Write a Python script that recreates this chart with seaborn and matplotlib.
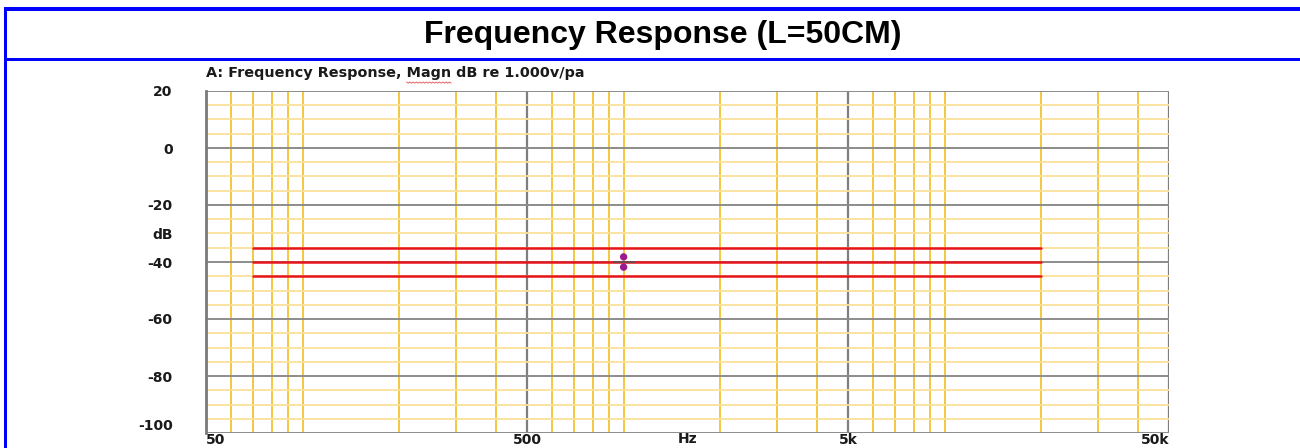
import numpy as np
import pandas as pd
import matplotlib
matplotlib.use("Agg")
import matplotlib.pyplot as plt
import matplotlib.ticker as mticker
from matplotlib.patches import Rectangle
from matplotlib.lines import Line2D
import seaborn as sns

# ---- data ----
trace_freq = [70, 20000]
trace_upper = [-35, -35]
trace_mid = [-40, -40]
trace_lower = [-45, -45]
cursor_freq = [1000, 1000]
cursor_db = [-38.2, -41.8]
x_ticks = [50, 500, 5000, 50000]
x_tick_labels = ["50", "500", "5k", "50k"]
y_ticks = [-100, -80, -60, -40, -20, 0, 20]
y_tick_labels = ["-100", "-80", "-60", "-40", "-20", "0", "20"]

df = pd.DataFrame({
    "freq": trace_freq * 3,
    "db": trace_upper + trace_mid + trace_lower,
    "trace": ["upper"] * 2 + ["mid"] * 2 + ["lower"] * 2,
})

sns.set_style("white")
plt.rcParams["font.family"] = ["DejaVu Sans"]

W, H = 1300, 448
fig = plt.figure(figsize=(W / 100, H / 100), dpi=100)
fig.patch.set_facecolor("white")

ax_l, ax_r, ax_t, ax_b = 206, 1169, 91, 433
ax = fig.add_axes([ax_l / W, 1 - ax_b / H, (ax_r - ax_l) / W, (ax_b - ax_t) / H])

sns.lineplot(data=df, x="freq", y="db", units="trace", estimator=None,
             color="#e8141c", linewidth=1.8, ax=ax, legend=False, zorder=5)

# cursor marker
ax.plot([1000], [-40], marker="_", ms=16, mew=1.2, color="#555555", zorder=6, linestyle="none")
sns.scatterplot(x=cursor_freq, y=cursor_db, color="#9b1b8e", s=28, marker="o",
                edgecolor="none", ax=ax, zorder=7)

ax.set_xscale("log")
ax.set_xlim(50, 50000)
ax.set_ylim(-100, 20)

ax.xaxis.set_major_locator(mticker.FixedLocator(x_ticks))
ax.xaxis.set_major_formatter(mticker.FixedFormatter(x_tick_labels))
minor_x = [m * 10 ** k for k in range(1, 5) for m in (1, 2, 3, 4, 6, 7, 8, 9)
           if 50 < m * 10 ** k < 50000]
ax.xaxis.set_minor_locator(mticker.FixedLocator(minor_x))
ax.xaxis.set_minor_formatter(mticker.NullFormatter())

ax.yaxis.set_major_locator(mticker.FixedLocator(y_ticks))
ax.yaxis.set_major_formatter(mticker.FixedFormatter(y_tick_labels))
ax.yaxis.set_minor_locator(mticker.MultipleLocator(5))

ax.set_axisbelow(True)
ax.xaxis.grid(True, which="major", color="#7f7f7f", linewidth=1.6)
ax.yaxis.grid(True, which="major", color="#8c8c8c", linewidth=1.4)
ax.xaxis.grid(True, which="minor", color="#f3c232", linewidth=1.3)
ax.yaxis.grid(True, which="minor", color="#fbe19a", linewidth=1.3)
for t in ax.yaxis.get_major_ticks():
    if t.get_loc() == -100:
        t.gridline.set_visible(False)

for s in ["right", "bottom", "top"]:
    ax.spines[s].set_visible(False)
ax.spines["left"].set_color("#7a7a7a")
ax.spines["left"].set_linewidth(2)

FS = 10
ax.tick_params(axis="both", which="both", length=0)
ax.tick_params(axis="x", pad=0)
ax.tick_params(axis="y", pad=24)
for lab in ax.get_xticklabels() + ax.get_yticklabels():
    lab.set_fontweight("bold")
    lab.set_fontsize(FS)
    lab.set_color("#1a1a1a")
xl = ax.get_xticklabels()
xl[0].set_ha("left")
xl[-1].set_ha("right")
for lab in ax.get_yticklabels():
    if lab.get_text() == "-100":
        lab.set_va("bottom")

ax.set_xlabel("Hz", fontsize=FS, fontweight="bold", color="#1a1a1a", va="center")
ax.xaxis.set_label_coords(0.5, -(439 - ax_b) / (ax_b - ax_t))
ax.set_ylabel("dB", fontsize=FS, fontweight="bold", color="#1a1a1a",
              rotation=0, ha="center", va="center")
ax.yaxis.set_label_coords((163 - ax_l) / (ax_r - ax_l), (ax_b - 235) / (ax_b - ax_t))

sub_props = dict(fontsize=10.4, fontweight="bold", color="#1a1a1a")
sub_y = (ax_b - 73) / (ax_b - ax_t)
ax.text(0, sub_y, "A: Frequency Response, Magn dB re 1.000v/pa",
        transform=ax.transAxes, ha="left", va="center", **sub_props)

# spell-check squiggle under "Magn" -- position measured from the text
fig.canvas.draw()
rend = fig.canvas.get_renderer()
pre = ax.text(0, sub_y, "A: Frequency Response, ", transform=ax.transAxes,
              ha="left", va="center", **sub_props)
word = ax.text(0, sub_y, "Magn", transform=ax.transAxes, ha="left", va="center", **sub_props)
x0 = ax_l + pre.get_window_extent(rend).width
x1 = x0 + word.get_window_extent(rend).width
pre.remove()
word.remove()
n = 28
sq_x = np.linspace(x0, x1, n)
sq_y = 82 + np.where(np.arange(n) % 2 == 0, 0, 1.2)
fig.add_artist(Line2D(sq_x / W, 1 - sq_y / H, color="#e05050", linewidth=0.6))

# title
fig.text(663 / W, 1 - 35 / H, "Frequency Response (L=50CM)", ha="center", va="center",
         fontsize=23, fontweight="bold", family=["Liberation Sans", "DejaVu Sans"],
         color="black")

# blue frame
blue = "#0000ff"
fig.add_artist(Rectangle((4 / W, 1 - 11 / H), 1 - 4 / W, 4 / H, transform=fig.transFigure,
                         facecolor=blue, edgecolor="none"))
fig.add_artist(Rectangle((4 / W, 0), 3 / W, 1 - 7 / H, transform=fig.transFigure,
                         facecolor=blue, edgecolor="none"))
fig.add_artist(Rectangle((4 / W, 1 - 61 / H), 1 - 4 / W, 3 / H, transform=fig.transFigure,
                         facecolor=blue, edgecolor="none"))

fig.savefig("out.png", dpi=100, facecolor="white")
